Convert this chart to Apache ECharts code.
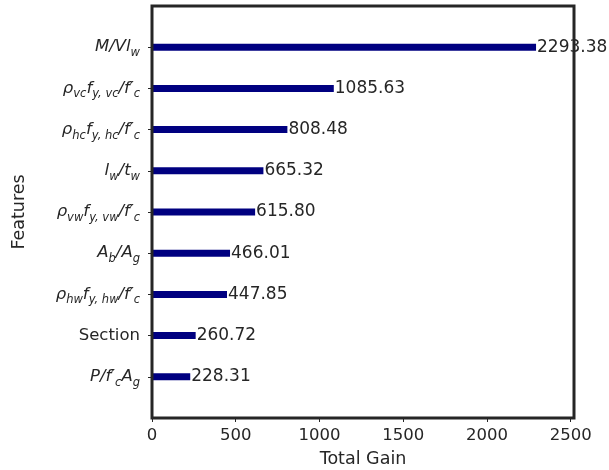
<!DOCTYPE html>
<html>
<head>
<meta charset="utf-8">
<script src="https://cdn.jsdelivr.net/npm/echarts@6/dist/echarts.min.js"></script>
<style>
  html, body { margin: 0; padding: 0; background: #fff; }
  #chart { width: 609px; height: 470px; }
</style>
</head>
<body>
<div id="chart"></div>
<script>
// Feature names, top to bottom, as rich-text markup (italic math with subscripts)
const features = [
  '{i|M/Vl}{s|w}',
  '{i|ρ}{s|vc}{i|f}{s|y, vc}{i|/f′}{s|c}',
  '{i|ρ}{s|hc}{i|f}{s|y, hc}{i|/f′}{s|c}',
  '{i|l}{s|w}{i|/t}{s|w}',
  '{i|ρ}{s|vw}{i|f}{s|y, vw}{i|/f′}{s|c}',
  '{i|A}{s|b}{i|/A}{s|g}',
  '{i|ρ}{s|hw}{i|f}{s|y, hw}{i|/f′}{s|c}',
  '{r|Section}',
  '{i|P/f′}{s|c}{i|A}{s|g}'
];
// Total gain per feature
const gains = [2293.38, 1085.63, 808.48, 665.32, 615.80, 466.01, 447.85, 260.72, 228.31];
// X-axis ticks
const xTicks = [0, 500, 1000, 1500, 2000, 2500];

// Empty slots above and below the bars leave a one-row margin inside the frame
const cats = ['__top'].concat(features, ['__bottom']);
const vals = [null].concat(gains, [null]);

const ink = '#262626';
const font = 'DejaVu Sans';

const chart = echarts.init(document.getElementById('chart'), null, { renderer: 'canvas' });
chart.setOption({
  animation: false,
  backgroundColor: '#ffffff',
  grid: {
    left: 152, top: 6, width: 422, height: 412,
    outerBoundsMode: 'none', containLabel: false,
    show: true, borderColor: ink, borderWidth: 3, backgroundColor: 'transparent', z: 5
  },
  xAxis: {
    type: 'value',
    min: xTicks[0], max: 2520, interval: 500,
    name: 'Total Gain', nameLocation: 'middle', nameGap: 32,
    nameTextStyle: { fontFamily: font, fontSize: 17.5, color: ink },
    axisLine: { show: false },
    axisTick: { show: true, length: 4, lineStyle: { color: ink, width: 1 } },
    axisLabel: {
      fontFamily: font, fontSize: 16.5, color: ink, margin: 9,
      showMaxLabel: false,
      formatter: v => (xTicks.indexOf(v) >= 0 ? String(v) : '')
    },
    splitLine: { show: false }
  },
  yAxis: {
    type: 'category',
    data: cats,
    inverse: true,
    boundaryGap: false,
    name: 'Features', nameLocation: 'middle', nameGap: 124, nameRotate: 90,
    nameTextStyle: { fontFamily: font, fontSize: 17.5, color: ink },
    axisLine: { show: false },
    axisTick: {
      show: true, length: 4, lineStyle: { color: ink, width: 1 },
      interval: (idx) => idx > 0 && idx < cats.length - 1
    },
    axisLabel: {
      margin: 12,
      interval: 0,
      formatter: v => (v.indexOf('__') === 0 ? '' : v),
      rich: {
        i: { fontFamily: font, fontStyle: 'italic', fontSize: 16.5, color: ink, lineHeight: 24 },
        r: { fontFamily: font, fontSize: 16.5, color: ink, lineHeight: 24 },
        s: { fontFamily: font, fontStyle: 'italic', fontSize: 11.5, color: ink, lineHeight: 14, verticalAlign: 'bottom' }
      }
    }
  },
  series: [{
    type: 'bar',
    data: vals,
    barWidth: 7,
    itemStyle: { color: '#000080' },
    label: {
      show: true,
      position: 'right',
      distance: 1,
      fontFamily: font,
      fontSize: 17,
      color: ink,
      formatter: p => p.value.toFixed(2)
    }
  }]
});
</script>
</body>
</html>
